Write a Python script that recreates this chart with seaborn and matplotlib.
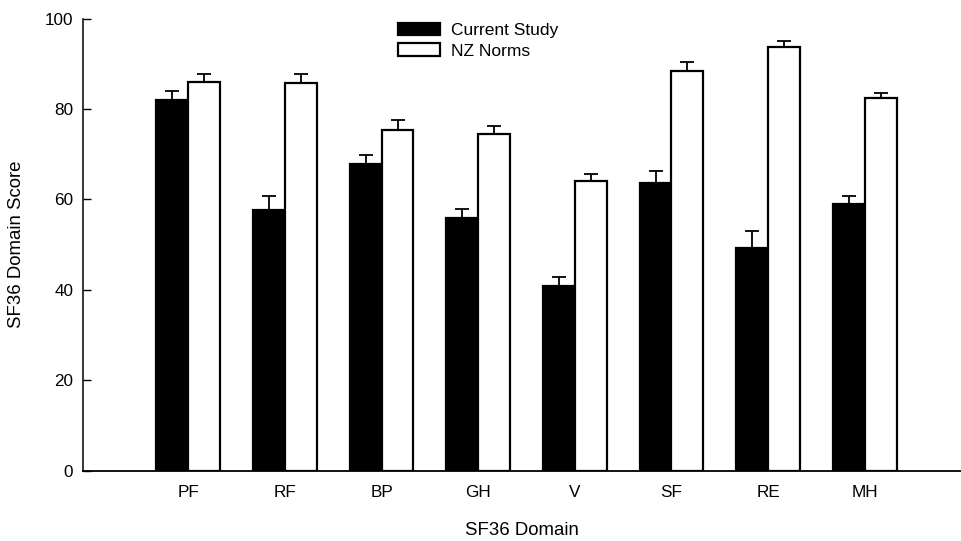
import numpy as np
import pandas as pd
import matplotlib
matplotlib.use("Agg")
import matplotlib.pyplot as plt
from matplotlib.patches import Patch
import seaborn as sns

domains = ["PF", "RF", "BP", "GH", "V", "SF", "RE", "MH"]
current_mean = [82.0, 57.7, 67.8, 55.8, 40.9, 63.6, 49.2, 58.9]
current_err = [2.0, 3.1, 2.0, 2.2, 2.0, 2.6, 3.9, 1.9]
nz_mean = [85.9, 85.7, 75.3, 74.6, 64.0, 88.4, 93.7, 82.4]
nz_err = [1.9, 2.1, 2.2, 1.7, 1.6, 2.0, 1.4, 1.2]
series = ["Current Study", "NZ Norms"]

df = pd.DataFrame({
    "domain": domains * 2,
    "group": [series[0]] * len(domains) + [series[1]] * len(domains),
    "score": current_mean + nz_mean,
})

sns.set_style("ticks")
plt.rcParams["font.family"] = ["Liberation Sans", "DejaVu Sans"]
for k in ["text.color", "axes.labelcolor", "xtick.color", "ytick.color", "axes.edgecolor"]:
    plt.rcParams[k] = "black"

fig = plt.figure(figsize=(9.62, 5.41), dpi=100)
ax = fig.add_axes([0.0863, 0.13, 0.913, 0.8354])

sns.barplot(data=df, x="domain", y="score", hue="group", order=domains,
            hue_order=series, palette=["black", "white"], width=0.66,
            errorbar=None, edgecolor="black", linewidth=1.6, saturation=1,
            legend=False, ax=ax)

# error bars (upper only), placed on the bar patches
errs = current_err + nz_err
means = current_mean + nz_mean
bars = [p for p in ax.patches if p.get_height() > 0]
for p, m, e in zip(bars, means, errs):
    xc = p.get_x() + p.get_width() / 2
    ax.errorbar(xc, m, yerr=[[0], [e]], fmt="none", ecolor="black",
                elinewidth=1.3, capsize=4.8, capthick=1.3, zorder=1)

ax.set_xlim(-1.09, 8.0)
ax.set_ylim(0, 100)
ax.set_yticks([0, 20, 40, 60, 80, 100])
ax.tick_params(axis="y", direction="in", length=5.5, width=1, labelsize=12.3, pad=7)
ax.tick_params(axis="x", length=0, labelsize=12.3, pad=10)
for s in ["top", "right"]:
    ax.spines[s].set_visible(False)
ax.spines["left"].set_linewidth(1.1)
ax.spines["bottom"].set_linewidth(1.3)

ax.set_xlabel("SF36 Domain", fontsize=13.4, labelpad=16)
ax.set_ylabel("SF36 Domain Score", fontsize=13.4, labelpad=14)

handles = [Patch(facecolor="black", edgecolor="black", linewidth=1.6),
           Patch(facecolor="white", edgecolor="black", linewidth=1.6)]
fig.legend(handles, series, loc="upper left",
           bbox_to_anchor=(398 / 962, 1 - 23 / 541), frameon=False,
           fontsize=12.5, handlelength=2.4, handleheight=0.7,
           handletextpad=0.65, labelspacing=0.3, borderpad=0, borderaxespad=0)

fig.savefig("out.png", dpi=100)
